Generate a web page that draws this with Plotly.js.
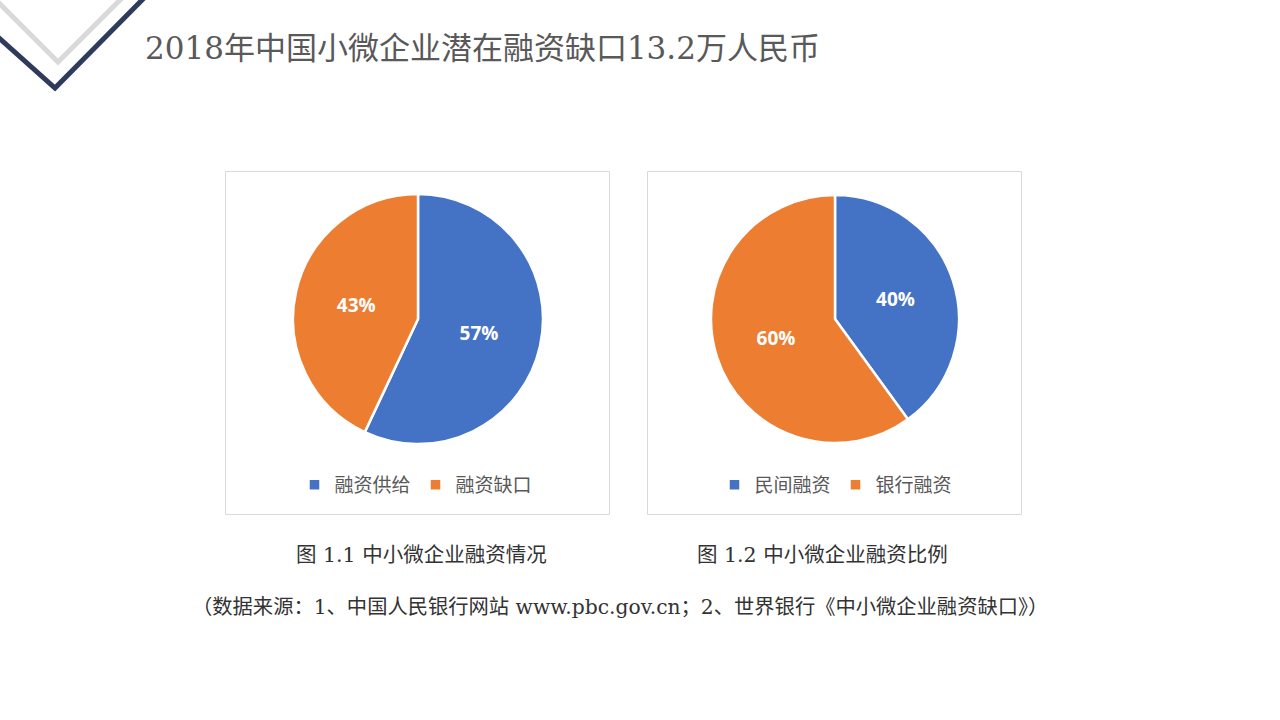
<!DOCTYPE html>
<html>
<head>
<meta charset="utf-8">
<script src="https://cdn.plot.ly/plotly-3.0.1.min.js"></script>
<style>
html,body{margin:0;padding:0;background:#fff;}
#chart{width:1280px;height:720px;}
</style>
</head>
<body>
<div id="chart"></div>
<script>
// ---- data ----
const supplyLabels = ["融资供给", "融资缺口"];
const supplyValues = [57, 43];
const sourceLabels = ["民间融资", "银行融资"];
const sourceValues = [40, 60];
const sliceColors = ["#4472C4", "#ED7D31"];

const slideTitle = "2018年中国小微企业潜在融资缺口13.2万人民币";
const caption1 = "图 1.1 中小微企业融资情况";
const caption2 = "图 1.2 中小微企业融资比例";
const sourceNote = "（数据来源：1、中国人民银行网站 www.pbc.gov.cn；2、世界银行《中小微企业融资缺口》）";

// ---- helpers: pixel -> paper ----
const W = 1280, H = 720;
const px = x => x / W;
const py = y => 1 - y / H;

const cjkSans = '"Noto Sans CJK SC", "Noto Sans", sans-serif';
const cjkSerif = '"DejaVu Serif", "Noto Sans CJK SC", serif';

function pieTrace(labels, values, cx, cy, r, legendId) {
  return {
    type: "pie",
    labels: labels,
    values: values,
    sort: false,
    direction: "clockwise",
    rotation: 0,
    textinfo: "percent",
    textposition: "inside",
    insidetextorientation: "horizontal",
    textfont: {family: '"Open Sans", "Noto Sans", sans-serif', size: 19, color: "#ffffff", weight: "bold"},
    marker: {colors: sliceColors, line: {color: "#ffffff", width: 2.5}},
    domain: {x: [px(cx - r), px(cx + r)], y: [py(cy + r), py(cy - r)]},
    hoverinfo: "label+percent",
    showlegend: true,
    legend: legendId
  };
}

const data = [
  pieTrace(supplyLabels, supplyValues, 418, 319, 125, "legend"),
  pieTrace(sourceLabels, sourceValues, 835, 319, 124, "legend2")
];

const legendCommon = {
  orientation: "h",
  xanchor: "center",
  yanchor: "middle",
  font: {family: cjkSans, size: 19, color: "#595959"},
  bgcolor: "rgba(0,0,0,0)",
  itemclick: false,
  itemdoubleclick: false,
  traceorder: "normal"
};

const layout = {
  width: W,
  height: H,
  margin: {l: 0, r: 0, t: 0, b: 0},
  paper_bgcolor: "#ffffff",
  plot_bgcolor: "#ffffff",
  showlegend: true,
  legend: Object.assign({}, legendCommon, {x: px(416), y: py(485)}),
  legend2: Object.assign({}, legendCommon, {x: px(836), y: py(485)}),
  shapes: [
    // decorative chevrons (top-left)
    {type: "path", xref: "paper", yref: "paper",
     path: `M ${px(-2)} ${py(2)} L ${px(58)} ${py(62)} L ${px(124)} ${py(-4)}`,
     line: {color: "#d9d9d9", width: 5}},
    {type: "path", xref: "paper", yref: "paper",
     path: `M ${px(-2)} ${py(37)} L ${px(55)} ${py(88)} L ${px(146)} ${py(-4)}`,
     line: {color: "#2f3b5c", width: 5}},
    // chart frames
    {type: "rect", xref: "paper", yref: "paper",
     x0: px(225.5), x1: px(609.5), y0: py(514.5), y1: py(171.5),
     line: {color: "#d9d9d9", width: 1}, fillcolor: "rgba(0,0,0,0)", layer: "below"},
    {type: "rect", xref: "paper", yref: "paper",
     x0: px(647.5), x1: px(1021.5), y0: py(514.5), y1: py(171.5),
     line: {color: "#d9d9d9", width: 1}, fillcolor: "rgba(0,0,0,0)", layer: "below"}
  ],
  annotations: [
    {text: slideTitle, xref: "paper", yref: "paper", x: px(143), y: py(48),
     xanchor: "left", yanchor: "middle", showarrow: false,
     font: {family: cjkSerif, size: 31, color: "#595959"}},
    {text: caption1, xref: "paper", yref: "paper", x: px(421), y: py(555),
     xanchor: "center", yanchor: "middle", showarrow: false,
     font: {family: cjkSerif, size: 20.5, color: "#333333"}},
    {text: caption2, xref: "paper", yref: "paper", x: px(822), y: py(555),
     xanchor: "center", yanchor: "middle", showarrow: false,
     font: {family: cjkSerif, size: 20.5, color: "#333333"}},
    {text: sourceNote, xref: "paper", yref: "paper", x: px(620), y: py(607),
     xanchor: "center", yanchor: "middle", showarrow: false,
     font: {family: cjkSerif, size: 20.3, color: "#333333"}}
  ]
};

Plotly.newPlot("chart", data, layout, {displayModeBar: false});
</script>
</body>
</html>
